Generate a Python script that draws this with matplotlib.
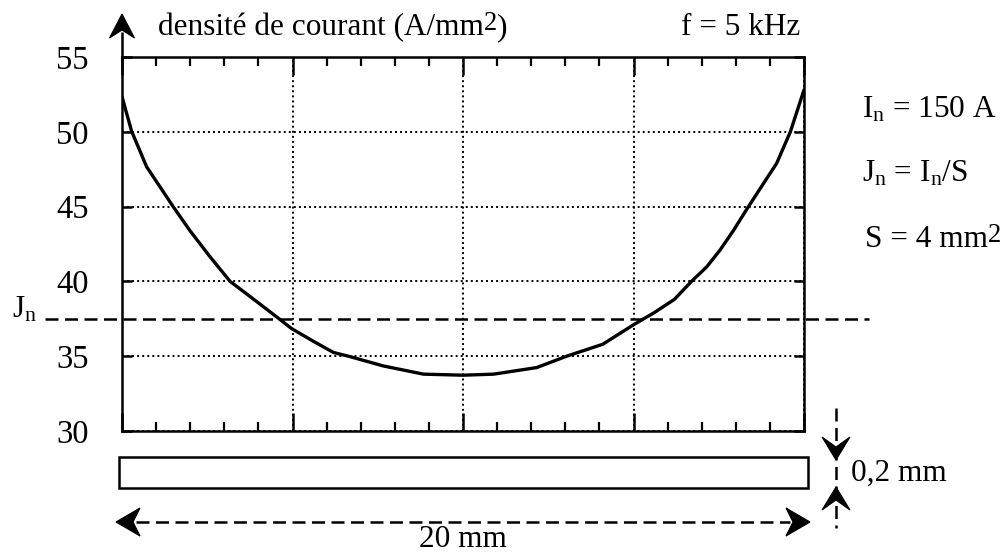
import matplotlib
matplotlib.use("Agg")
import matplotlib.pyplot as plt
from matplotlib.patches import Polygon, Rectangle
import numpy as np

# ---------------- data ----------------
x_mm = [0.0, 0.28, 0.72, 1.5, 1.99, 2.58, 3.17, 3.75, 4.63, 4.97, 5.61, 6.2, 6.69,
        7.66, 8.84, 10.0, 10.9, 12.16, 13.04, 14.1, 15.0, 15.6, 16.2, 16.7, 17.15,
        17.54, 17.93, 18.37, 19.2, 19.6, 20.0]
J_density = [52.35, 50.05, 47.67, 45.0, 43.4, 41.65, 40.0, 39.0, 37.46, 36.85, 36.0, 35.25, 34.97,
             34.35, 33.8, 33.73, 33.8, 34.24, 35.0, 35.8, 37.1, 37.9, 38.8, 40.0, 40.98,
             42.1, 43.4, 45.0, 47.9, 50.0, 52.8]
y_ticks = [30, 35, 40, 45, 50, 55]
x_major = [0, 5, 10, 15, 20]
I_n = 150      # A
S = 4          # mm2
Jn = I_n / S   # A/mm2
width_mm = 20
thick_mm = 0.2

W, H = 1007, 555
plt.rcParams['font.family'] = ['Liberation Serif', 'DejaVu Serif']
plt.rcParams['mathtext.fontset'] = 'custom'
plt.rcParams['mathtext.rm'] = 'Liberation Serif'
plt.rcParams['mathtext.it'] = 'Liberation Serif:italic'

fig = plt.figure(figsize=(W / 100, H / 100), dpi=100)
fig.patch.set_facecolor('white')

ax = fig.add_axes([122 / W, 1 - 431 / H, (804 - 122) / W, (431 - 57) / H])
ax.set_xlim(0, width_mm)
ax.set_ylim(30, 55)
ax.plot(x_mm, J_density, color='black', lw=2.4, solid_joinstyle='round',
        solid_capstyle='round', zorder=5)
ax.plot([-2.26, 21.9], [Jn, Jn], color='black', lw=1.8,
        linestyle=(0, (5.2, 2.6)), clip_on=False, zorder=4)

ax.set_xticks(x_major)
ax.set_xticks(np.arange(0, 21, 1), minor=True)
ax.set_yticks(y_ticks)
ax.set_yticklabels([str(v) for v in y_ticks])
ax.grid(which='major', linestyle=(0, (1, 1.6)), lw=1.4, color='black')
ax.tick_params(axis='x', which='major', direction='in', length=13, width=1.8,
               top=True, bottom=True, labelbottom=False)
ax.tick_params(axis='x', which='minor', direction='in', length=6.5, width=1.6,
               top=True, bottom=True)
ax.tick_params(axis='y', which='major', direction='in', length=7.5, width=1.8,
               left=True, right=True, labelsize=23.5, pad=24)
for sp in ax.spines.values():
    sp.set_linewidth(1.8)

# ---------------- overlay in pixels ----------------
ov = fig.add_axes([0, 0, 1, 1])
ov.set_xlim(0, W)
ov.set_ylim(H, 0)
ov.axis('off')
ov.patch.set_alpha(0)


def head(tip, d, L, hw, notch):
    tx, ty = tip
    dx, dy = d
    px, py = -dy, dx
    pts = [(tx, ty),
           (tx - L * dx + hw * px, ty - L * dy + hw * py),
           (tx - (L - notch) * dx, ty - (L - notch) * dy),
           (tx - L * dx - hw * px, ty - L * dy - hw * py)]
    ov.add_patch(Polygon(pts, closed=True, fc='black', ec='black', lw=0.8, zorder=6))


dash = (0, (5.2, 2.6))
# y-axis arrow
ov.plot([122, 122], [60, 32], color='black', lw=1.8, solid_capstyle='butt')
head((122, 14), (0, -1), 24, 12.5, 8)

# conductor cross-section
ov.add_patch(Rectangle((119, 457), 808 - 119, 488 - 457, fc='white', ec='black', lw=1.8))

# width arrow
ov.plot([136, 790], [522, 522], color='black', lw=1.8, linestyle=dash)
head((116, 522), (-1, 0), 24, 14, 7)
head((810, 522), (1, 0), 24, 14, 7)

# thickness arrows
ov.plot([836, 836], [408, 528], color='black', lw=1.8, linestyle=dash)
head((836, 460), (0, 1), 23, 14, 10)
head((836, 487), (0, -1), 23, 14, 10)

FS = 22.5
r = fig.canvas.get_renderer()


def seq_text(x, y, parts):
    """parts: list of (string, raise_px, scale)"""
    for s, rz, sc in parts:
        t = ov.text(x, y - rz, s, fontsize=FS * sc, va='baseline', ha='left')
        bb = t.get_window_extent(renderer=r)
        x = ov.transData.inverted().transform((bb.x1, bb.y0))[0]


seq_text(158, 35, [("densité de courant (A/mm", 0, 1), ("2", 5, 0.85), (")", 0, 1)])
ov.text(800, 35, "f = 5 kHz", fontsize=FS, ha='right', va='baseline')
ov.text(862, 117, r"I$_\mathrm{n}$ = 150 A", fontsize=FS, va='baseline')
ov.text(862, 182, r"J$_\mathrm{n}$ = I$_\mathrm{n}$/S", fontsize=FS, va='baseline')
seq_text(865, 247, [("S = 4 mm", 0, 1), ("2", 5, 0.85)])
ov.text(12, 318, r"J$_\mathrm{n}$", fontsize=FS, va='baseline')
ov.text(463, 547, "20 mm", fontsize=FS, ha='center', va='baseline')
ov.text(851, 481, "0,2 mm", fontsize=FS, ha='left', va='baseline')

fig.savefig("out.png", dpi=100)
